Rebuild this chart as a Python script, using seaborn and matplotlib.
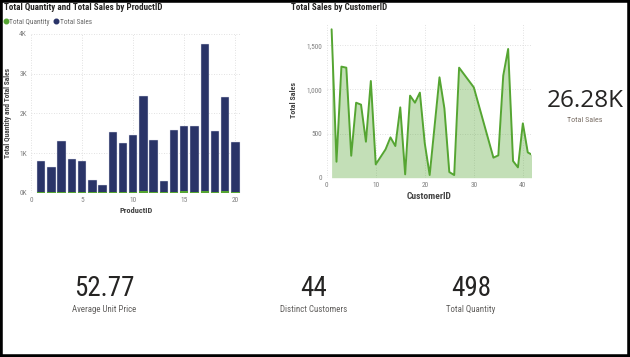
import numpy as np
import pandas as pd
import matplotlib
matplotlib.use("Agg")
import matplotlib.pyplot as plt
from matplotlib.lines import Line2D
from matplotlib.patches import Rectangle
from matplotlib.ticker import FuncFormatter
import seaborn as sns

sns.set_style("white")
plt.rcParams["font.family"] = ["Roboto Condensed", "DejaVu Sans"]

# --- data ---
product_id = list(range(1, 21))
product_sales = [780, 630, 1290, 840, 770, 300, 185, 1510, 1220, 1420,
                 2400, 1290, 280, 1540, 1660, 1640, 3700, 1520, 2380, 1260]
product_qty = [20, 18, 25, 22, 20, 12, 10, 28, 22, 25,
               38, 30, 10, 30, 32, 30, 40, 28, 35, 23]

customer_id = [1, 2, 3, 4, 5, 6, 7, 8, 9, 10, 12, 13, 14, 15, 16, 17, 18, 19,
               20, 21, 23, 24, 25, 26, 27, 30, 34, 35, 36, 37, 38, 39, 40, 41, 42]
customer_sales = [1682, 181, 1259, 1247, 249, 850, 828, 408, 1096, 151, 321,
                  457, 359, 797, 38, 930, 850, 964, 389, 30, 1138, 786, 64, 30,
                  1247, 1024, 227, 253, 1157, 1459, 189, 117, 616, 287, 255]

kpi_values = ["52.77", "44", "498"]
kpi_labels = ["Average Unit Price", "Distinct Customers", "Total Quantity"]
total_sales_label = "26.28K"

NAVY = "#2A3468"
GREEN = "#55A532"
TICK = "#808080"
DARK = "#252423"
LABEL = "#444444"

W, H = 630, 357
fig = plt.figure(figsize=(W / 100, H / 100), dpi=100)


def px_axes(x0, y_top, x1, y_bot):
    return fig.add_axes([x0 / W, 1 - y_bot / H, (x1 - x0) / W, (y_bot - y_top) / H])


def style_axes(ax):
    sns.despine(ax=ax, left=True, bottom=True)
    ax.tick_params(length=0, labelsize=5.3, labelcolor=TICK, pad=3)
    ax.grid(True, linestyle=(0, (1, 2)), color="#d8d8d8", linewidth=0.6)
    ax.set_axisbelow(True)


# --- left: stacked columns ---
df_p = pd.DataFrame({"ProductID": product_id, "Sales": product_sales, "Qty": product_qty})
df_p["Total"] = df_p["Sales"] + df_p["Qty"]

ax1 = px_axes(31, 34, 241, 192.7)
sns.barplot(data=df_p, x="ProductID", y="Total", native_scale=True, color=NAVY,
            saturation=1, width=0.82, ax=ax1, edgecolor="#dfe2ee", linewidth=0.3)
sns.barplot(data=df_p, x="ProductID", y="Qty", native_scale=True, color=GREEN,
            saturation=1, width=0.82, ax=ax1, linewidth=0)
ax1.set_xlim(0, 20.55)
ax1.set_ylim(0, 4000)
ax1.set_xticks([0, 5, 10, 15, 20])
ax1.set_yticks([0, 1000, 2000, 3000, 4000])
ax1.yaxis.set_major_formatter(FuncFormatter(lambda v, p: f"{int(v / 1000)}K"))
style_axes(ax1)
ax1.set_xlabel("ProductID", fontsize=6, color=LABEL, fontweight="bold", labelpad=2)
ax1.set_ylabel("Total Quantity and Total Sales", fontsize=5.4, color=LABEL,
               fontweight="bold", labelpad=5)

fig.text(4 / W, 1 - 8 / H, "Total Quantity and Total Sales by ProductID", fontsize=6.5,
         fontweight="bold", color=DARK, va="center", ha="left")
handles = [Line2D([], [], marker="o", linestyle="", color=GREEN, markersize=3.3),
           Line2D([], [], marker="o", linestyle="", color=NAVY, markersize=3.3)]
fig.legend(handles, ["Total Quantity", "Total Sales"], loc="center left",
           bbox_to_anchor=(2 / W, 1 - 22 / H), ncol=2, frameon=False, fontsize=5.2,
           handletextpad=0.0, columnspacing=0.4, labelcolor="#666666",
           borderaxespad=0, borderpad=0, handlelength=1.0)

# --- right: area line ---
df_c = pd.DataFrame({"CustomerID": customer_id, "Sales": customer_sales})
ax2 = px_axes(326.7, 23.3, 530.7, 177.7)
ax2.fill_between(df_c["CustomerID"], df_c["Sales"], color=GREEN, alpha=0.35, linewidth=0)
sns.lineplot(data=df_c, x="CustomerID", y="Sales", color=GREEN, linewidth=1.4, ax=ax2)
ax2.set_xlim(0, 41.6)
ax2.set_ylim(0, 1750)
ax2.set_xticks([0, 10, 20, 30, 40])
ax2.set_yticks([0, 500, 1000, 1500])
ax2.yaxis.set_major_formatter(FuncFormatter(lambda v, p: f"{int(v):,}"))
style_axes(ax2)
ax2.set_xlabel("CustomerID", fontsize=6.8, color=LABEL, fontweight="bold", labelpad=2)
ax2.set_ylabel("Total Sales", fontsize=5.8, color=LABEL, fontweight="bold", labelpad=7)
fig.text(291 / W, 1 - 8 / H, "Total Sales by CustomerID", fontsize=6.5,
         fontweight="bold", color=DARK, va="center", ha="left")

# --- KPI cards ---
fig.text(585 / W, 1 - 101 / H, total_sales_label, fontsize=17.5, color=DARK,
         ha="center", va="center", family=["Open Sans", "DejaVu Sans"])
fig.text(585 / W, 1 - 120.5 / H, "Total Sales", fontsize=5.8, color="#7a6f66",
         ha="center", va="center")

kpi_x = [104, 314, 471]
for xc, val, lab in zip(kpi_x, kpi_values, kpi_labels):
    fig.text(xc / W, 1 - 289 / H, val, fontsize=19.5, color=DARK, ha="center",
             va="center")
    fig.text(xc / W, 1 - 309.5 / H, lab, fontsize=6.4, color="#605E5C",
             ha="center", va="center")

# frame
fig.patches.append(Rectangle((0, 0), 1, 1, transform=fig.transFigure, fill=False,
                             edgecolor="black", linewidth=4))

fig.savefig("out.png", dpi=100)
